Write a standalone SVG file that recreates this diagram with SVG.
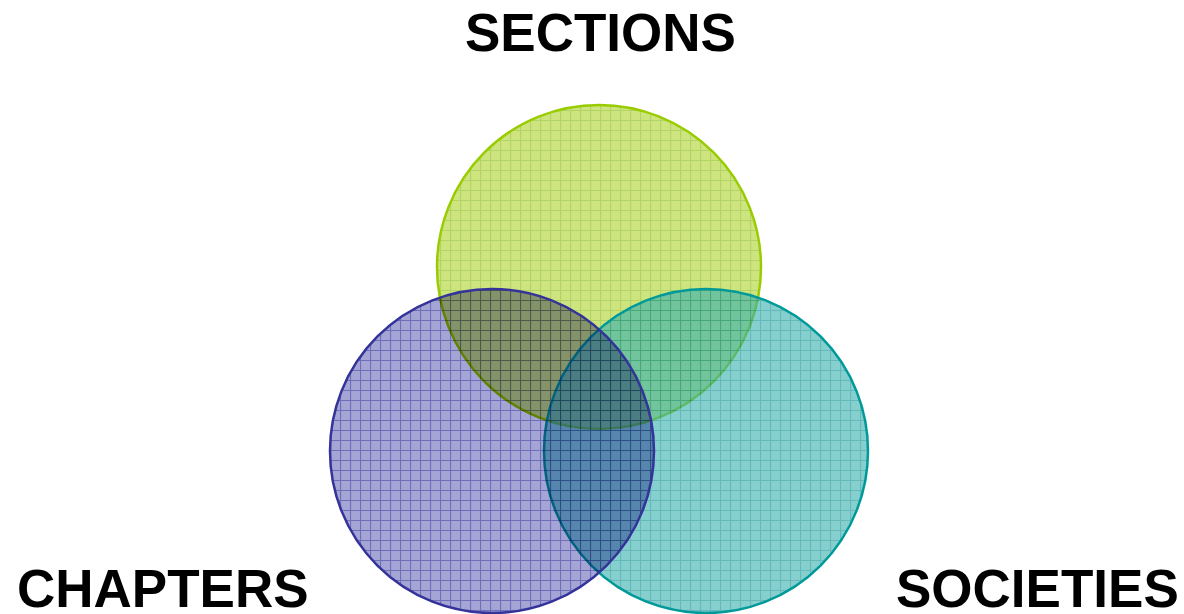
<svg xmlns="http://www.w3.org/2000/svg" width="1184" height="614" viewBox="0 0 1184 614">
<style>
.lbl{font-family:"Liberation Sans",Arial,sans-serif;font-weight:bold;font-size:53px;fill:#000}
.c{stroke-width:2.5}
</style>
<defs>
<pattern id="pg" patternUnits="userSpaceOnUse" width="10" height="10">
<rect width="10" height="10" fill="#acd22a"/>
<path d="M0 0.5H10M0.5 0V10" stroke="#7fb800" stroke-width="1.2"/>
</pattern>
<pattern id="pb" patternUnits="userSpaceOnUse" width="10" height="10">
<rect width="10" height="10" fill="#9898d0"/>
<path d="M0 0.5H10M0.5 0V10" stroke="#5a5ab0" stroke-width="1.2"/>
</pattern>
<pattern id="pt" patternUnits="userSpaceOnUse" width="10" height="10">
<rect width="10" height="10" fill="#35afaf"/>
<path d="M0 0.5H10M0.5 0V10" stroke="#008a8a" stroke-width="1.2"/>
</pattern>
</defs>
<rect width="1184" height="614" fill="#fff"/>
<g id="sections">
<circle cx="599" cy="267" r="162" fill="url(#pg)" fill-opacity="0.6" stroke="#99cc00" class="c"/>
</g>
<g id="societies">
<circle cx="706" cy="451" r="162" fill="url(#pt)" fill-opacity="0.6" stroke="#009999" class="c"/>
</g>
<g id="chapters">
<circle cx="492" cy="451" r="162" fill="url(#pb)" opacity="0.88" style="mix-blend-mode:multiply"/>
<circle cx="492" cy="451" r="162" fill="none" stroke="#333399" class="c"/>
</g>
<g id="labels">
<text class="lbl" x="465" y="51">SECTIONS</text>
<text class="lbl" x="17" y="607">CHAPTERS</text>
<text class="lbl" x="896" y="607">SOCIETIES</text>
</g>
<g id="connectors"/>
</svg>
